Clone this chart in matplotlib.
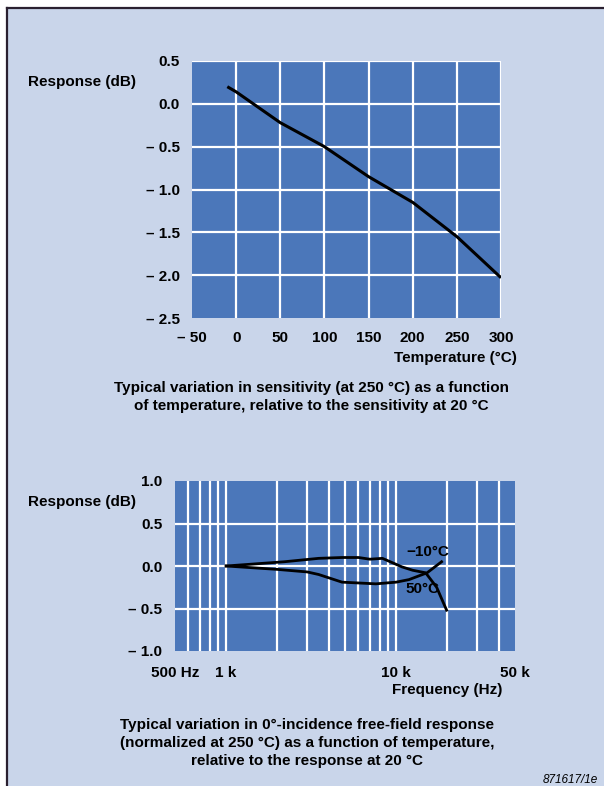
import numpy as np
import matplotlib
matplotlib.use('Agg')
import matplotlib.pyplot as plt
from matplotlib.patches import Rectangle
from matplotlib.lines import Line2D

plt.rcParams['font.family'] = ['Liberation Sans', 'DejaVu Sans']
plt.rcParams['font.weight'] = 'bold'

# sensitivity vs temperature
temp = [-10, 0, 50, 100, 150, 200, 250, 300]
sens = [0.2, 0.14, -0.22, -0.5, -0.85, -1.15, -1.55, -2.03]
temp_ticks = [-50, 0, 50, 100, 150, 200, 250, 300]
temp_labels = ['\u2013 50', '0', '50', '100', '150', '200', '250', '300']
sens_ticks = [0.5, 0.0, -0.5, -1.0, -1.5, -2.0, -2.5]
sens_labels = ['0.5', '0.0', '\u2013 0.5', '\u2013 1.0', '\u2013 1.5', '\u2013 2.0', '\u2013 2.5']

# free-field response vs frequency
freq_m10 = [1000, 2200, 3500, 4800, 6000, 7000, 8300, 10800, 12500, 14900, 17300, 19800]
resp_m10 = [0.0, 0.05, 0.09, 0.1, 0.1, 0.08, 0.09, -0.01, -0.05, -0.08, -0.25, -0.52]
freq_p50 = [1000, 2000, 3000, 3500, 4800, 7600, 10000, 11900, 15200, 18500]
resp_p50 = [0.0, -0.04, -0.07, -0.1, -0.19, -0.21, -0.19, -0.16, -0.08, 0.05]
freq_grid = [600, 700, 800, 900, 1000, 2000, 3000, 4000, 5000, 6000, 7000, 8000, 9000,
             10000, 20000, 30000, 40000]
freq_ticks = [500, 1000, 10000, 50000]
freq_labels = ['500 Hz', '1 k', '10 k', '50 k']
resp_ticks = [1.0, 0.5, 0.0, -0.5, -1.0]
resp_labels = ['1.0', '0.5', '0.0', '\u2013 0.5', '\u2013 1.0']

W, H = 604, 786
bg = '#c9d5ea'
face = '#4b77ba'
frame = '#2a2030'

fig = plt.figure(figsize=(W / 100, H / 100), dpi=100, facecolor='white')
fig.patches.append(Rectangle((8 / W, 0), 1, 1 - 8 / H, transform=fig.transFigure,
                             facecolor=bg, edgecolor='none', zorder=-10))
fig.lines.append(Line2D([7.5 / W, 1], [1 - 7.5 / H, 1 - 7.5 / H], transform=fig.transFigure,
                        color=frame, lw=1.6))
fig.lines.append(Line2D([7.5 / W, 7.5 / W], [1 - 7.5 / H, 0], transform=fig.transFigure,
                        color=frame, lw=1.6))

def px(x, y):
    return x / W, 1 - y / H

# ---- top chart
ax1 = fig.add_axes([192 / W, 1 - 318 / H, 309 / W, 257 / H])
ax1.set_facecolor(face)
ax1.set_xlim(-50, 300)
ax1.set_ylim(-2.5, 0.5)
for t in temp_ticks[1:]:
    ax1.axvline(t, color='white', lw=1.6, zorder=1)
for v in sens_ticks[:-1]:
    ax1.axhline(v, color='white', lw=1.6, zorder=1)
ax1.plot(temp, sens, color='black', lw=2.2, zorder=3, solid_capstyle='butt')
ax1.set_xticks(temp_ticks)
ax1.set_xticklabels(temp_labels)
ax1.set_yticks(sens_ticks)
ax1.set_yticklabels(sens_labels)
ax1.tick_params(length=0, labelsize=11, pad=9)
for s in ax1.spines.values():
    s.set_visible(False)

fig.text(*px(28, 82), 'Response (dB)', fontsize=11, ha='left', va='center')
fig.text(*px(517, 358), 'Temperature (\u00b0C)', fontsize=11, ha='right', va='center')
fig.text(*px(311, 397), 'Typical variation in sensitivity (at 250 \u00b0C) as a function\n'
         'of temperature, relative to the sensitivity at 20 \u00b0C',
         fontsize=11, ha='center', va='center', linespacing=1.4)

# ---- bottom chart
ax2 = fig.add_axes([175 / W, 1 - 651 / H, 340 / W, 170 / H])
ax2.set_facecolor(face)
ax2.set_xscale('log')
ax2.set_xlim(500, 50000)
ax2.set_ylim(-1.0, 1.0)
for f in freq_grid:
    ax2.axvline(f, color='white', lw=1.6, zorder=1)
for v in resp_ticks[1:-1]:
    ax2.axhline(v, color='white', lw=1.6, zorder=1)
ax2.plot(freq_m10, resp_m10, color='black', lw=2.0, zorder=3)
ax2.plot(freq_p50, resp_p50, color='black', lw=2.0, zorder=3)
ax2.text(15300, 0.16, '\u221210\u00b0C', fontsize=11, ha='center', va='center', zorder=4)
ax2.text(14300, -0.27, '50\u00b0C', fontsize=11, ha='center', va='center', zorder=4)
ax2.set_xticks(freq_ticks)
ax2.set_xticklabels(freq_labels)
ax2.xaxis.set_minor_locator(matplotlib.ticker.NullLocator())
ax2.set_yticks(resp_ticks)
ax2.set_yticklabels(resp_labels)
ax2.tick_params(length=0, labelsize=11, pad=9)
ax2.tick_params(axis='x', pad=11)
for s in ax2.spines.values():
    s.set_visible(False)

fig.text(*px(28, 502), 'Response (dB)', fontsize=11, ha='left', va='center')
fig.text(*px(502, 690), 'Frequency (Hz)', fontsize=11, ha='right', va='center')
fig.text(*px(307, 743), 'Typical variation in 0\u00b0-incidence free-field response\n'
         '(normalized at 250 \u00b0C) as a function of temperature,\n'
         'relative to the response at 20 \u00b0C',
         fontsize=11, ha='center', va='center', linespacing=1.35)
fig.text(*px(598, 780), '871617/1e', fontsize=8.5, ha='right', va='center',
         style='italic', weight='normal')

fig.savefig('out.png', dpi=100, facecolor='white')
